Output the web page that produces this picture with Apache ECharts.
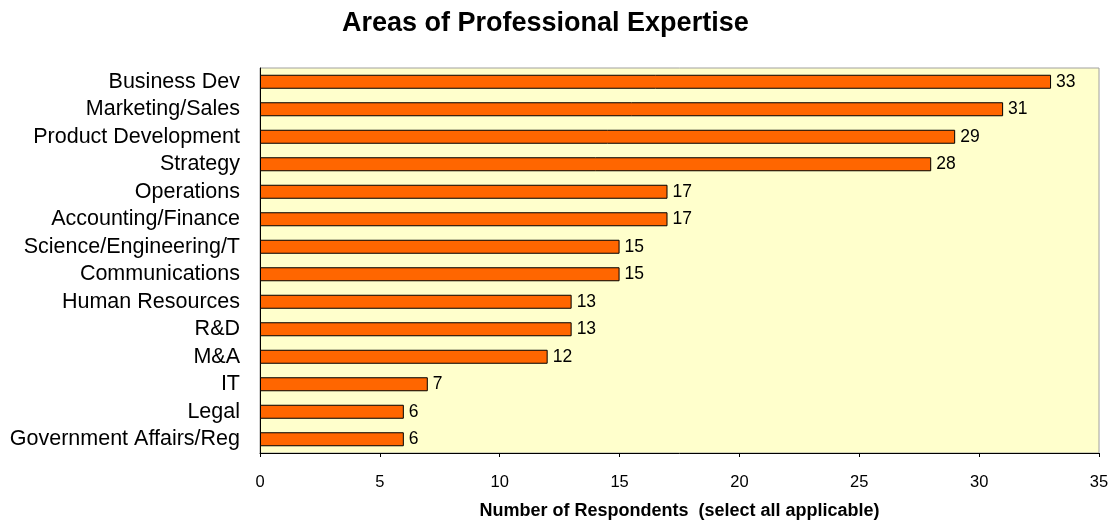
<!DOCTYPE html>
<html>
<head>
<meta charset="utf-8">
<script src="https://cdn.jsdelivr.net/npm/echarts@6/dist/echarts.min.js"></script>
<style>
html,body{margin:0;padding:0;background:#fff;}
#chart{width:1112px;height:525px;}
</style>
</head>
<body>
<div id="chart"></div>
<script>
// Areas of expertise, listed top to bottom
const categories = [
  'Business Dev', 'Marketing/Sales', 'Product Development', 'Strategy',
  'Operations', 'Accounting/Finance', 'Science/Engineering/T', 'Communications',
  'Human Resources', 'R&D', 'M&A', 'IT', 'Legal', 'Government Affairs/Reg'
];
const respondents = [33, 31, 29, 28, 17, 17, 15, 15, 13, 13, 12, 7, 6, 6];
const xTicks = [0, 5, 10, 15, 20, 25, 30, 35];

const FONT = '"Liberation Sans", Arial, sans-serif';
const chart = echarts.init(document.getElementById('chart'));

chart.setOption({
  animation: false,
  backgroundColor: '#ffffff',
  title: {
    text: 'Areas of Professional Expertise',
    left: 337,
    top: 5,
    textStyle: { fontFamily: FONT, fontSize: 27, fontWeight: 'bold', color: '#000' }
  },
  grid: {
    left: 260, top: 68, right: 13, bottom: 68,
    show: true,
    backgroundColor: '#ffffcc',
    borderColor: '#a0a0a0',
    borderWidth: 1
  },
  xAxis: {
    type: 'value',
    min: xTicks[0],
    max: xTicks[xTicks.length - 1],
    interval: 5,
    name: 'Number of Respondents  (select all applicable)',
    nameLocation: 'middle',
    nameGap: 49,
    nameTextStyle: { fontFamily: FONT, fontSize: 18, fontWeight: 'bold', color: '#000' },
    axisLine: { show: true, lineStyle: { color: '#000', width: 1 } },
    axisTick: { show: true, length: 4, inside: false, lineStyle: { color: '#000' } },
    axisLabel: { fontFamily: FONT, fontSize: 16.5, color: '#000', margin: 21 },
    splitLine: { show: false }
  },
  yAxis: {
    type: 'category',
    data: categories.slice().reverse(),
    axisLine: { show: true, lineStyle: { color: '#000', width: 1 } },
    axisTick: { show: false },
    axisLabel: { fontFamily: FONT, fontSize: 21.5, color: '#000', margin: 20, interval: 0 }
  },
  series: [{
    type: 'bar',
    data: respondents.slice().reverse(),
    barWidth: 14,
    itemStyle: { color: '#ff6600', borderColor: '#000', borderWidth: 1 },
    label: {
      show: true,
      position: 'right',
      distance: 5,
      fontFamily: FONT,
      fontSize: 17.5,
      color: '#000'
    }
  }]
});
</script>
</body>
</html>
